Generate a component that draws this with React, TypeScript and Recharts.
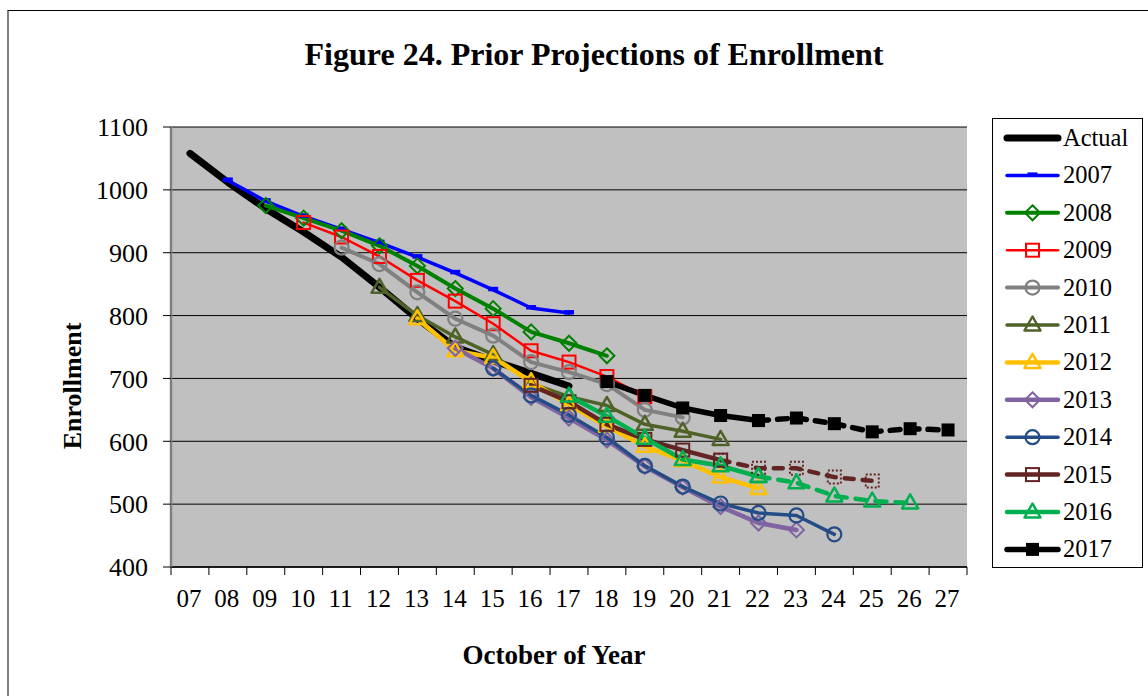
import React from "react";
import { LineChart, Line, XAxis, YAxis, CartesianGrid, Legend, Label } from "recharts";

const FONT = '"Liberation Serif", "Times New Roman", serif';

// categories: October of each year
const years = ["07", "08", "09", "10", "11", "12", "13", "14", "15", "16", "17", "18", "19", "20", "21", "22", "23", "24", "25", "26", "27"];
const yTicks = [400, 500, 600, 700, 800, 900, 1000, 1100];

// each list starts at its own first year (see series table below)
const actual = [1058, 1012, 970, 933, 893, 845, 795, 750, 728, 708, 688];
const proj2007 = [1015, 982, 958, 937, 916, 893, 868, 841, 812, 804];
const proj2008 = [975, 955, 935, 911, 879, 843, 811, 774, 756, 736];
const proj2009 = [948, 925, 894, 856, 823, 787, 744, 726, 703, 671];
const proj2010 = [908, 882, 837, 795, 768, 726, 710, 691, 650, 638];
const proj2011 = [845, 800, 766, 738, 692, 671, 657, 627, 616, 603];
const proj2012 = [795, 744, 733, 695, 658, 624, 592, 569, 543, 525];
const proj2013 = [748, 716, 670, 637, 602, 560, 527, 496, 470, 459];
const proj2014 = [716, 673, 642, 606, 561, 528, 501, 486, 482, 452];
const proj2015 = [689, 663, 627, 603, 586, 570, 557, 557, 543, 537];
const proj2016 = [672, 640, 605, 571, 561, 544, 534, 513, 505, 502];
const proj2017 = [695, 673, 653, 641, 633, 637, 628, 615, 620, 618];

type Shape = "none" | "dash" | "diamond" | "square" | "circle" | "triangle" | "filled";

interface Series {
  name: string;
  start: number;
  values: number[];
  color: string;
  width: number;
  shape: Shape;
  solidTo?: number; // last index of the solid part, the rest is dashed
  dash?: string;
}

const series: Series[] = [
  { name: "Actual", start: 0, values: actual, color: "#000000", width: 7, shape: "none" },
  { name: "2007", start: 1, values: proj2007, color: "#0000FF", width: 3.5, shape: "dash" },
  { name: "2008", start: 2, values: proj2008, color: "#008000", width: 4, shape: "diamond" },
  { name: "2009", start: 3, values: proj2009, color: "#FF0000", width: 2.5, shape: "square" },
  { name: "2010", start: 4, values: proj2010, color: "#808080", width: 4, shape: "circle" },
  { name: "2011", start: 5, values: proj2011, color: "#4F6228", width: 3.5, shape: "triangle" },
  { name: "2012", start: 6, values: proj2012, color: "#FFC000", width: 4.5, shape: "triangle" },
  { name: "2013", start: 7, values: proj2013, color: "#8064A2", width: 4.5, shape: "diamond" },
  { name: "2014", start: 8, values: proj2014, color: "#244C86", width: 3.5, shape: "circle" },
  { name: "2015", start: 9, values: proj2015, color: "#632523", width: 4.5, shape: "square", solidTo: 5, dash: "9 9" },
  { name: "2016", start: 10, values: proj2016, color: "#00B050", width: 4.5, shape: "triangle", solidTo: 5, dash: "11 9" },
  { name: "2017", start: 11, values: proj2017, color: "#000000", width: 5.5, shape: "filled", solidTo: 4, dash: "10 9" },
];

const data = years.map((yr, i) => {
  const row: Record<string, any> = { yr };
  series.forEach((s) => {
    const j = i - s.start;
    const v = j >= 0 && j < s.values.length ? s.values[j] : null;
    if (s.solidTo === undefined) {
      row[s.name] = v;
    } else {
      row[s.name] = j <= s.solidTo ? v : null;
      row[s.name + "p"] = j >= s.solidTo ? v : null;
    }
  });
  return row;
});

const W = 1148;
const H = 696;
const PLOT_LEFT = 171;
const PLOT_TOP = 127;
const PLOT_W = 796;
const PLOT_H = 440;
const STEP = PLOT_W / years.length;
const TICK_SIZE = 8;
const TICK_MARGIN = 14;

const Marker = ({ shape, cx, cy, color, dotted }: { shape: Shape; cx: number; cy: number; color: string; dotted?: boolean }) => {
  const sd = dotted ? "2 2" : undefined;
  switch (shape) {
    case "dash":
      return <rect x={cx - 5} y={cy - 3} width={10} height={4.5} fill={color} />;
    case "diamond":
      return (
        <path d={`M${cx},${cy - 7.5}L${cx + 7.5},${cy}L${cx},${cy + 7.5}L${cx - 7.5},${cy}Z`} fill="none" stroke={color} strokeWidth={2} />
      );
    case "square":
      return <rect x={cx - 6.5} y={cy - 6.5} width={13} height={13} fill="none" stroke={color} strokeWidth={2} strokeDasharray={sd} />;
    case "circle":
      return <circle cx={cx} cy={cy} r={7} fill="none" stroke={color} strokeWidth={2.2} />;
    case "triangle":
      return (
        <path d={`M${cx},${cy - 8.5}L${cx + 8},${cy + 5.5}L${cx - 8},${cy + 5.5}Z`} fill="none" stroke={color} strokeWidth={2.5} strokeLinejoin="round" />
      );
    case "filled":
      return <rect x={cx - 6.5} y={cy - 6.5} width={13} height={13} fill={color} />;
    default:
      return null;
  }
};

const makeDot = (s: Series, dotted: boolean) => (p: any) => {
  const k = `${s.name}-${dotted ? "p" : "s"}-${p.index}`;
  if (s.shape === "none" || p.cx == null || p.cy == null || p.value == null) return <g key={k} />;
  return (
    <g key={k}>
      <Marker shape={s.shape} cx={p.cx} cy={p.cy} color={s.color} dotted={dotted} />
    </g>
  );
};

const XTick = (props: any) => {
  const { x, y, payload, index } = props;
  const axisY = y - TICK_MARGIN - TICK_SIZE;
  const half = STEP / 2;
  return (
    <g>
      <line x1={x - half} x2={x - half} y1={axisY} y2={axisY + TICK_SIZE} stroke="#000" />
      {index === years.length - 1 && <line x1={x + half} x2={x + half} y1={axisY} y2={axisY + TICK_SIZE} stroke="#000" />}
      <text x={x - 1} y={y + 18} textAnchor="middle" fontSize={25} fontFamily={FONT} fill="#000">
        {payload.value}
      </text>
    </g>
  );
};

const renderLegend = (props: any) => {
  const order = (name: string) => series.findIndex((s) => s.name === name);
  const items = (props.payload || [])
    .filter((it: any) => order(it.value) >= 0)
    .sort((a: any, b: any) => order(a.value) - order(b.value));
  return (
    <svg width={151} height={450} style={{ display: "block" }}>
      <rect x={0.5} y={0.5} width={150} height={449} fill="#fff" stroke="#000" />
      {items.map((it: any, i: number) => {
        const s = series[order(it.value)];
        const cy = 20 + i * 37.4;
        return (
          <g key={it.value}>
            <line x1={15} x2={66} y1={cy} y2={cy} stroke={s.color} strokeWidth={s.width} strokeLinecap="round" />
            <Marker shape={s.shape} cx={40.5} cy={cy} color={s.color} />
            <text x={71} y={cy + 8} fontSize={24.5} fontFamily={FONT} fill="#000">
              {it.value}
            </text>
          </g>
        );
      })}
    </svg>
  );
};

export default function App() {
  return (
    <div style={{ position: "relative", width: W, height: H, background: "#fff", overflow: "hidden" }}>
      <style>{`body{margin:0}`}</style>
      <div
        style={{
          position: "absolute",
          left: 7,
          top: 10,
          width: W,
          height: H,
          borderTop: "1px solid #000",
          borderLeft: "2px solid #808080",
        }}
      />
      <div
        style={{
          position: "absolute",
          left: 244,
          top: 35,
          width: 700,
          textAlign: "center",
          fontFamily: FONT,
          fontWeight: "bold",
          fontSize: 32,
          lineHeight: "38px",
          color: "#000",
          whiteSpace: "nowrap",
        }}
      >
        Figure 24. Prior Projections of Enrollment
      </div>
      <LineChart
        width={W}
        height={H}
        data={data}
        margin={{ top: PLOT_TOP, right: W - PLOT_LEFT - PLOT_W, bottom: 0, left: 0 }}
        style={{ position: "absolute", left: 0, top: 0 }}
      >
        <CartesianGrid vertical={false} stroke="#000" fill="#C0C0C0" fillOpacity={1} />
        <XAxis
          dataKey="yr"
          height={H - PLOT_TOP - PLOT_H}
          padding={{ left: STEP / 2, right: STEP / 2 }}
          interval={0}
          tickSize={TICK_SIZE}
          tickMargin={TICK_MARGIN}
          tickLine={false}
          axisLine={{ stroke: "#000", strokeWidth: 1.5 }}
          tick={<XTick />}
        >
          <Label
            content={({ viewBox }: any) => (
              <text
                x={viewBox.x + viewBox.width / 2 - 15}
                y={viewBox.y + 97}
                textAnchor="middle"
                fontSize={27}
                fontWeight="bold"
                fontFamily={FONT}
                fill="#000"
              >
                October of Year
              </text>
            )}
          />
        </XAxis>
        <YAxis
          domain={[400, 1100]}
          ticks={yTicks}
          interval={0}
          width={PLOT_LEFT}
          tickSize={TICK_SIZE}
          tickMargin={15}
          allowDataOverflow
          axisLine={{ stroke: "#808080", strokeWidth: 2.5 }}
          tickLine={{ stroke: "#000" }}
          tick={{ fontSize: 26, fill: "#000", fontFamily: FONT }}
        >
          <Label
            content={({ viewBox }: any) => {
              const cx = 72;
              const cy = viewBox.y + viewBox.height / 2 + 39;
              return (
                <text
                  x={cx + 9}
                  y={cy}
                  transform={`rotate(-90 ${cx + 9} ${cy})`}
                  textAnchor="middle"
                  fontSize={26}
                  fontWeight="bold"
                  fontFamily={FONT}
                  fill="#000"
                >
                  Enrollment
                </text>
              );
            }}
          />
        </YAxis>
        <YAxis
          yAxisId="right"
          orientation="right"
          domain={[400, 1100]}
          width={0}
          tick={false}
          tickLine={false}
          axisLine={{ stroke: "#808080", strokeWidth: 2 }}
        />
        <Legend
          layout="horizontal"
          verticalAlign="middle"
          align="center"
          wrapperStyle={{ position: "absolute", left: 992, top: 118, width: 151, height: 450, margin: 0 }}
          content={renderLegend}
        />
        {series.flatMap((s) => {
          const lines = [
            <Line
              key={s.name}
              dataKey={s.name}
              name={s.name}
              type="linear"
              stroke={s.color}
              strokeWidth={s.width}
              strokeLinecap="round"
              strokeLinejoin="round"
              dot={makeDot(s, false)}
              activeDot={false}
              isAnimationActive={false}
            />,
          ];
          if (s.solidTo !== undefined) {
            lines.push(
              <Line
                key={s.name + "p"}
                dataKey={s.name + "p"}
                name={s.name + " projected"}
                type="linear"
                stroke={s.color}
                strokeWidth={s.width}
                strokeDasharray={s.dash}
                strokeLinecap="round"
                dot={makeDot(s, s.name === "2015")}
                activeDot={false}
                legendType="none"
                isAnimationActive={false}
              />
            );
          }
          return lines;
        })}
      </LineChart>
    </div>
  );
}
